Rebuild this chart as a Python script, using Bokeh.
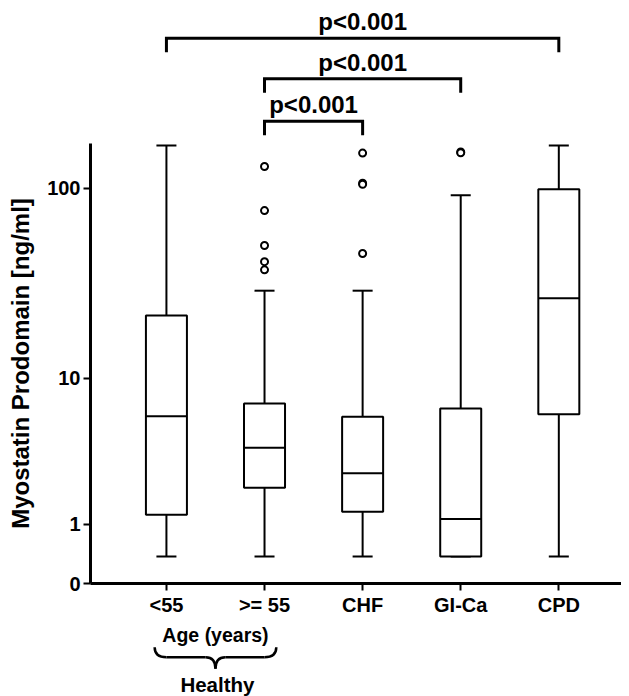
import numpy as np
from bokeh.plotting import figure
from bokeh.layouts import column
from bokeh.models import Range1d, FixedTicker
from bokeh.core.properties import value
from bokeh.embed import file_html
from bokeh.resources import INLINE

# ---------------- data ----------------
groups = ["<55", ">= 55", "CHF", "GI-Ca", "CPD"]
whisker_low = [0.37, 0.37, 0.37, 0.37, 0.37]
q1 = [1.23, 2.06, 1.31, 0.37, 6.2]
median = [6.05, 3.88, 2.62, 1.12, 26.9]
q3 = [21.8, 7.18, 6.0, 6.72, 98.6]
whisker_high = [165, 29.5, 29.5, 91.9, 165]

outlier_group = [">= 55"] * 5 + ["CHF"] * 4 + ["GI-Ca"] * 2
outlier_value = [129, 76.7, 50.7, 41.8, 37.9, 151, 106, 104.5, 46.1, 153, 151.5]

y_tick_values = [0, 1, 10, 100]
y_label = "Myostatin Prodomain [ng/ml]"

comparisons = [("<55", "CPD"), (">= 55", "GI-Ca"), (">= 55", "CHF")]
p_labels = ["p<0.001", "p<0.001", "p<0.001"]

subgroup_label = "Age (years)"
subgroup_members = ["<55", ">= 55"]
supergroup_label = "Healthy"

# ---------------- styling ----------------
FONT = value("Liberation Sans")
FW, FL = 531, 90
pos = {g: i + 1 for i, g in enumerate(groups)}
xs = np.array([pos[g] for g in groups], dtype=float)
x_rng = Range1d(0.226, 5.639)

def off(v):
    return np.asarray(v, dtype=float) + 1.0   # log(x+1) scale

def bare(h, yr):
    f = figure(frame_width=FW, frame_height=h, x_range=x_rng, y_range=yr,
               min_border_left=FL, min_border_right=0, min_border_top=0, min_border_bottom=0,
               x_axis_location=None, y_axis_location=None, outline_line_color=None,
               output_backend="svg", toolbar_location=None)
    f.grid.visible = False
    return f

# ---------------- top: significance brackets ----------------
TOP_H = 143
top = bare(TOP_H, Range1d(TOP_H, 0))
levels = [37.7, 78.3, 120.7]
leg = 14
gap = 16.5
for (a, b), lab, L in zip(comparisons, p_labels, levels):
    x0, x1 = pos[a], pos[b]
    top.line([x0, x0, x1, x1], [L + leg, L, L, L + leg], line_color="black",
             line_width=3, line_join="miter")
    top.text(x=[(x0 + x1) / 2], y=[L - gap], text=[lab],
             text_align="center", text_baseline="middle",
             text_font=FONT, text_font_style="bold", text_font_size="24px",
             text_color="black")

# ---------------- main box plot ----------------
p = figure(frame_width=FW, frame_height=440, y_axis_type="log",
           x_range=x_rng, y_range=Range1d(1, 170),
           min_border_left=FL, min_border_right=0, min_border_top=0, min_border_bottom=36,
           outline_line_color=None, output_backend="svg", toolbar_location=None)
p.grid.visible = False

bw, cw = 0.418, 0.204
p.segment(x0=xs, y0=off(q3), x1=xs, y1=off(whisker_high), line_color="black", line_width=2)
p.segment(x0=xs, y0=off(q1), x1=xs, y1=off(whisker_low), line_color="black", line_width=2)
p.segment(x0=xs - cw / 2, y0=off(whisker_high), x1=xs + cw / 2, y1=off(whisker_high),
          line_color="black", line_width=2)
p.segment(x0=xs - cw / 2, y0=off(whisker_low), x1=xs + cw / 2, y1=off(whisker_low),
          line_color="black", line_width=2)
p.vbar(x=xs, width=bw, top=off(q3), bottom=off(q1), fill_color="white",
       line_color="black", line_width=2)
p.segment(x0=xs - bw / 2, y0=off(median), x1=xs + bw / 2, y1=off(median),
          line_color="black", line_width=2)
p.scatter(x=[pos[g] for g in outlier_group], y=off(outlier_value), marker="circle",
          size=7, fill_color="white", line_color="black", line_width=2)

p.yaxis.ticker = FixedTicker(ticks=[t + 1 for t in y_tick_values])
p.yaxis.major_label_overrides = {t + 1: str(t) for t in y_tick_values}
p.yaxis.axis_label = y_label
p.xaxis.ticker = FixedTicker(ticks=[pos[g] for g in groups])
p.xaxis.major_label_overrides = {pos[g]: g for g in groups}

for ax in (p.xaxis[0], p.yaxis[0]):
    ax.axis_line_width = 3
    ax.axis_line_color = "black"
    ax.major_tick_line_width = 2
    ax.major_tick_line_color = "black"
    ax.major_tick_in = 0
    ax.major_tick_out = 7
    ax.minor_tick_line_color = None
    ax.major_label_text_font = "Liberation Sans"
    ax.major_label_text_font_style = "bold"
    ax.major_label_text_font_size = "20px"
    ax.major_label_text_color = "black"
p.xaxis.major_label_standoff = 3
p.yaxis.major_label_standoff = 3
p.yaxis.axis_label_text_font = "Liberation Sans"
p.yaxis.axis_label_text_font_style = "bold"
p.yaxis.axis_label_text_font_size = "24px"
p.yaxis.axis_label_text_color = "black"
p.yaxis.axis_label_standoff = 10

# ---------------- bottom: group annotations ----------------
BOT_H = 77
bot = bare(BOT_H, Range1d(BOT_H, 0))
xa, xb = pos[subgroup_members[0]], pos[subgroup_members[1]]
xc = (xa + xb) / 2
bot.text(x=[xc], y=[15], text=[subgroup_label], text_align="center",
         text_baseline="middle", text_font=FONT, text_font_style="bold",
         text_font_size="19.5px", text_color="black")
xL, xR = xa - 0.12, xb + 0.12
r, rt = 0.12, 0.1
yt, ym, yb = 27.7, 37.7, 49.3
bot.quadratic(x0=[xL, xR], y0=[yt, yt], x1=[xL + r, xR - r], y1=[ym, ym],
              cx=[xL, xR], cy=[ym, ym], line_color="black", line_width=2.5)
bot.segment(x0=[xL + r, xc + rt], y0=[ym, ym], x1=[xc - rt, xR - r], y1=[ym, ym],
            line_color="black", line_width=2.5)
bot.quadratic(x0=[xc - rt, xc + rt], y0=[ym, ym], x1=[xc, xc], y1=[yb, yb],
              cx=[xc, xc], cy=[ym, ym], line_color="black", line_width=2.5)
bot.text(x=[xc + 0.02], y=[64.5], text=[supergroup_label], text_align="center",
         text_baseline="middle", text_font=FONT, text_font_style="bold",
         text_font_size="20.5px", text_color="black")

layout = column(top, p, bot, spacing=0)
open("out.html", "w").write(file_html(layout, INLINE))
